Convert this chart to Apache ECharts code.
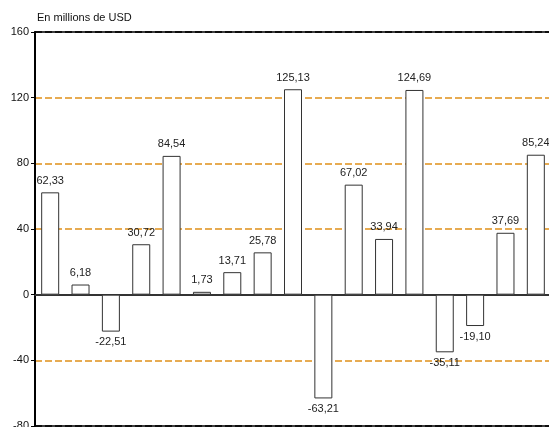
<!DOCTYPE html>
<html><head><meta charset="utf-8">
<script src="https://cdn.jsdelivr.net/npm/echarts@6/dist/echarts.min.js"></script>
<style>html,body{margin:0;padding:0;background:#fff}#c{width:549px;height:427px}</style>
</head><body><div id="c"></div>
<script>
const categories = ['1','2','3','4','5','6','7','8','9','10','11','12','13','14','15','16','17'];
const values = [62.33, 6.18, -22.51, 30.72, 84.54, 1.73, 13.71, 25.78, 125.13, -63.21, 67.02, 33.94, 124.69, -35.11, -19.10, 37.69, 85.24];
const yTicks = [-80, -40, 0, 40, 80, 120, 160];
const unitTitle = 'En millions de USD';

const font = 'Liberation Sans, Arial, sans-serif';
const orange = '#e0901a';
const chart = echarts.init(document.getElementById('c'), null, {renderer: 'canvas'});
const fmt = v => v.toFixed(2).replace('.', ',');
chart.setOption({
  animation: false,
  title: {text: unitTitle, left: 32, top: 7, textStyle: {fontFamily: font, fontSize: 11, fontWeight: 'normal', color: '#111'}},
  grid: {left: 35, top: 32, width: 516, height: 394, outerBoundsMode: 'none', containLabel: false,
         show: true, borderColor: '#000', borderWidth: 1.5, backgroundColor: 'transparent'},
  xAxis: {
    type: 'category', data: categories,
    axisLine: {onZero: true, lineStyle: {color: '#333', width: 2}},
    axisTick: {show: false}, axisLabel: {show: false}, splitLine: {show: false}
  },
  yAxis: {
    type: 'value', min: yTicks[0], max: yTicks[yTicks.length - 1], interval: 40,
    axisLine: {show: true, lineStyle: {color: '#000', width: 2}},
    axisTick: {show: true, length: 4, lineStyle: {color: '#000'}},
    axisLabel: {fontFamily: font, fontSize: 11, color: '#111', margin: 6},
    splitLine: {show: true, lineStyle: {color: yTicks.map((t, i) => (i === 0 || i === yTicks.length - 1) ? '#000' : orange), type: [7, 3], width: 1.5}}
  },
  series: [{
    type: 'bar', barWidth: 18,
    data: values.map(v => ({
      value: v,
      label: {position: v < 0 ? 'bottom' : 'top', distance: v < 0 ? 5 : 6}
    })),
    itemStyle: {color: '#fff', borderColor: '#333', borderWidth: 1},
    label: {show: true, fontFamily: font, fontSize: 11, color: '#222', formatter: p => fmt(p.value)}
  }]
});
</script></body></html>
